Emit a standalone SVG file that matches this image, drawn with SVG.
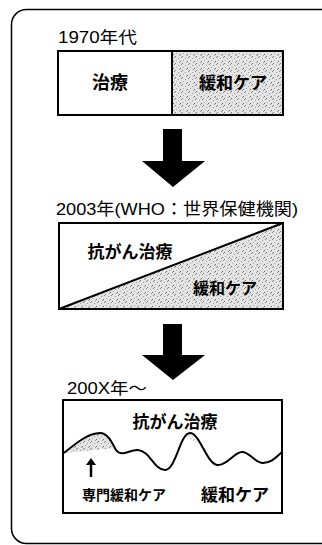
<svg xmlns="http://www.w3.org/2000/svg" width="322" height="545" viewBox="0 0 322 545">
<style>
.frame{fill:none;stroke:#000;stroke-width:1.5}
.box{fill:#fff;stroke:#000;stroke-width:2}
.outline{fill:none;stroke:#000;stroke-width:2}
.line{fill:none;stroke:#000;stroke-width:2}
.t{font-family:"Liberation Sans","Noto Sans CJK JP",sans-serif;fill:#000}
.j{font-family:"Noto Sans CJK JP",sans-serif;font-weight:bold;fill:#000}
.arrow{fill:#000}
</style>
<defs>
<pattern id="dots" width="7" height="7" patternUnits="userSpaceOnUse">
<rect width="7" height="7" fill="#e4e4e4"/>
<rect x="0" y="0" width="1" height="1" fill="#777"/>
<rect x="3" y="2" width="1" height="1" fill="#999"/>
<rect x="5" y="5" width="1" height="1" fill="#666"/>
<rect x="1" y="4" width="1" height="1" fill="#aaa"/>
<rect x="6" y="1" width="1" height="1" fill="#888"/>
<rect x="4" y="6" width="1" height="1" fill="#999"/>
</pattern>
</defs>
<rect id="frame" class="frame" x="11.5" y="9.5" width="330" height="534" rx="15"/>

<g id="stage1">
<text class="t" x="58" y="43" font-size="16" textLength="79" lengthAdjust="spacingAndGlyphs">1970年代</text>
<rect class="box" x="58" y="51" width="225" height="64"/>
<rect x="172" y="52" width="110" height="62" fill="url(#dots)"/>
<line class="line" x1="172" y1="51" x2="172" y2="115"/>
<text class="j" x="110" y="89" font-size="18" text-anchor="middle">治療</text>
<text class="j" x="233" y="89" font-size="17" text-anchor="middle">緩和ケア</text>
</g>

<g id="stage2">
<text class="t" x="56" y="215" font-size="17" textLength="242" lengthAdjust="spacingAndGlyphs">2003年(WHO：世界保健機関)</text>
<rect class="box" x="59" y="223" width="224" height="86"/>
<polygon points="59,309 283,223 283,309" fill="url(#dots)"/>
<line class="line" x1="59" y1="309" x2="283" y2="223"/>
<rect class="outline" x="59" y="223" width="224" height="86"/>
<text class="j" x="130" y="258" font-size="17" text-anchor="middle">抗がん治療</text>
<text class="j" x="225" y="294" font-size="16" text-anchor="middle">緩和ケア</text>
</g>

<g id="stage3">
<text class="t" x="67" y="394" font-size="16" textLength="80" lengthAdjust="spacingAndGlyphs">200X年～</text>
<rect class="box" x="63" y="400" width="219" height="113"/>
<text class="j" x="175" y="428" font-size="17" text-anchor="middle">抗がん治療</text>
<path d="M66,452 C76,444 88,433 100,433 C107,433 111,441 114,448 L66,453 Z" fill="url(#dots)"/>
<path d="M186,438 C187,435 188,433 190,433 C193,433 195,437 197,443 Z" fill="url(#dots)" opacity="0.5"/>
<path class="line" d="M64,453 C75,444 88,433 100,433 C108,433 112,443 116,450 C122,458 130,449 138,450 C150,451 154,470 165,470 C176,470 180,433 190,433 C200,433 207,465 218,465 C228,465 234,452 242,452 C250,452 255,463 263,463 C272,463 277,456 282,452"/>
<text class="j" x="124" y="500" font-size="14" text-anchor="middle">専門緩和ケア</text>
<text class="j" x="235" y="501" font-size="17" text-anchor="middle">緩和ケア</text>
</g>

<g id="connectors">
<polygon class="arrow" points="163,129 182,129 182,161 205,161 173,187 142,161 163,161"/>
<polygon class="arrow" points="163,324 182,324 182,355 205,355 173,380 142,355 163,355"/>
<line x1="91" y1="477" x2="91" y2="464" stroke="#000" stroke-width="2.5"/>
<polygon class="arrow" points="86,465 96,465 91,458"/>
</g>
</svg>
